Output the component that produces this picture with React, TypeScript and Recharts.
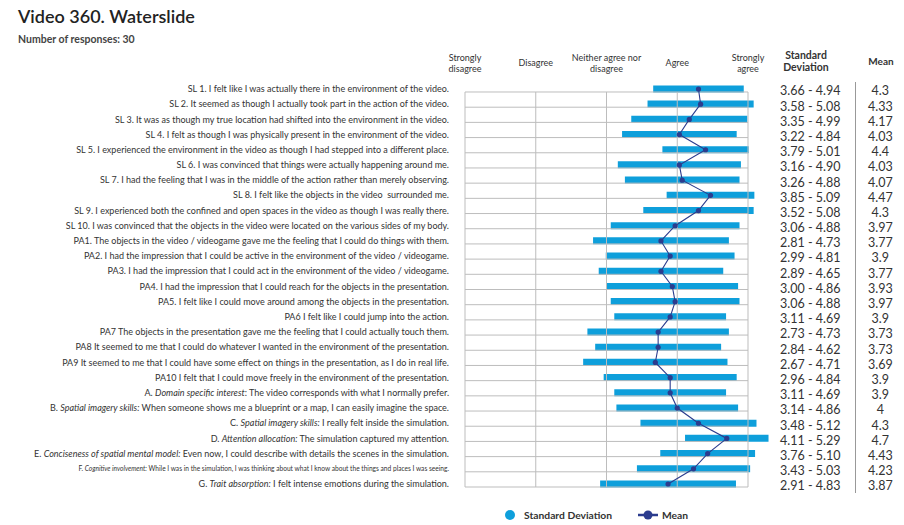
import React from 'react';
import { ComposedChart, Bar, Line, XAxis, YAxis, ReferenceLine } from 'recharts';

const codes = ['SL1','SL2','SL3','SL4','SL5','SL6','SL7','SL8','SL9','SL10','PA1','PA2','PA3','PA4','PA5','PA6','PA7','PA8','PA9','PA10','A','B','C','D','E','F','G'];
const prefixes = ['SL 1. ','SL 2. ','SL 3. ','SL 4. ','SL 5. ','SL 6. ','SL 7. ','SL 8. ','SL 9. ','SL 10. ','PA1. ','PA2. ','PA3. ','PA4. ','PA5. ','PA6 ','PA7 ','PA8 ','PA9 ','PA10 ','A. ','B. ','C. ','D. ','E. ','F. ','G. '];
const italics = ['','','','','','','','','','','','','','','','','','','','','Domain specific interest','Spatial imagery skills:','Spatial imagery skills:','Attention allocation:','Conciseness of spatial mental model:','Cognitive involvement:','Trait absorption:'];
const texts = [
  'I felt like I was actually there in the environment of the video.',
  'It seemed as though I actually took part in the action of the video.',
  'It was as though my true location had shifted into the environment in the video.',
  'I felt as though I was physically present in the environment of the video.',
  'I experienced the environment in the video as though I had stepped into a different place.',
  'I was convinced that things were actually happening around me.',
  'I had the feeling that I was in the middle of the action rather than merely observing.',
  'I felt like the objects in the video  surrounded me.',
  'I experienced both the confined and open spaces in the video as though I was really there.',
  'I was convinced that the objects in the video were located on the various sides of my body.',
  'The objects in the video / videogame gave me the feeling that I could do things with them.',
  'I had the impression that I could be active in the environment of the video / videogame.',
  'I had the impression that I could act in the environment of the video / videogame.',
  'I had the impression that I could reach for the objects in the presentation.',
  'I felt like I could move around among the objects in the presentation.',
  'I felt like I could jump into the action.',
  'The objects in the presentation gave me the feeling that I could actually touch them.',
  'It seemed to me that I could do whatever I wanted in the environment of the presentation.',
  'It seemed to me that I could have some effect on things in the presentation, as I do in real life.',
  'I felt that I could move freely in the environment of the presentation.',
  ': The video corresponds with what I normally prefer.',
  ' When someone shows me a blueprint or a map, I can easily imagine the space.',
  ' I really felt inside the simulation.',
  ' The simulation captured my attention.',
  ' Even now, I could describe with details the scenes in the simulation.',
  ' While I was in the simulation, I was thinking about what I know about the things and places I was seeing.',
  ' I felt intense emotions during the simulation.',
];
const sdLow = [3.66,3.58,3.35,3.22,3.79,3.16,3.26,3.85,3.52,3.06,2.81,2.99,2.89,3.00,3.06,3.11,2.73,2.84,2.67,2.96,3.11,3.14,3.48,4.11,3.76,3.43,2.91];
const sdHigh = [4.94,5.08,4.99,4.84,5.01,4.90,4.88,5.09,5.08,4.88,4.73,4.81,4.65,4.86,4.88,4.69,4.73,4.62,4.71,4.84,4.69,4.86,5.12,5.29,5.10,5.03,4.83];
const means = [4.3,4.33,4.17,4.03,4.4,4.03,4.07,4.47,4.3,3.97,3.77,3.9,3.77,3.93,3.97,3.9,3.73,3.73,3.69,3.9,3.9,4,4.3,4.7,4.43,4.23,3.87];
const scaleTicks = [1, 2, 3, 4, 5];
const scaleLabels = [['Strongly', 'disagree'], ['Disagree'], ['Neither agree nor', 'disagree'], ['Agree'], ['Strongly', 'agree']];

const data = codes.map((c, i) => ({ code: c, sd: [sdLow[i], sdHigh[i]], mean: means[i] }));

const FONT = 'Lato, "Open Sans", sans-serif';
const BAR = '#0E9FDB';
const NAVY = '#2B3C8E';
const GRID = '#BDBDBD';

const LeftTick = (props: any) => {
  const { x, y, payload } = props;
  const i = codes.indexOf(payload.value);
  const small = payload.value === 'F';
  return (
    <text x={x} y={y} dy="0.35em" textAnchor="end" fontSize={small ? 6.6 : 9} fill="#333" fontFamily={FONT} style={{ whiteSpace: 'pre' }}>
      <tspan>{prefixes[i]}</tspan>
      {italics[i] ? <tspan fontStyle="italic">{italics[i]}</tspan> : null}
      <tspan>{texts[i]}</tspan>
    </text>
  );
};

const RightTick = (props: any) => {
  const { x, y, payload } = props;
  const i = codes.indexOf(payload.value);
  return (
    <g fontFamily={FONT} fill="#333" fontSize={12.5}>
      <text x={x + 34} y={y + 2} dy="0.35em" textAnchor="middle">{`${sdLow[i].toFixed(2)} - ${sdHigh[i].toFixed(2)}`}</text>
      <text x={x + 104} y={y + 2} dy="0.35em" textAnchor="middle">{String(means[i])}</text>
    </g>
  );
};

const TopTick = (props: any) => {
  const { x, payload } = props;
  const i = scaleTicks.indexOf(payload.value);
  const lines = scaleLabels[i] || [];
  return (
    <text x={x} textAnchor="middle" fontSize={9} fill="#333" fontFamily={FONT}>
      {lines.length === 1 ? (
        <tspan x={x} y={65.5}>{lines[0]}</tspan>
      ) : (
        lines.map((l, k) => <tspan key={k} x={x} y={60.5 + k * 11}>{l}</tspan>)
      )}
    </text>
  );
};

const shiftedLine = (p: any) => (
  <line x1={p.x1} y1={p.y1 + 3} x2={p.x2} y2={p.y2 + 3} stroke={GRID} strokeWidth={1} />
);

export default function App() {
  return (
    <div style={{ position: 'absolute', left: 0, top: 0, width: 904, height: 525, background: '#fff', fontFamily: FONT }}>
      <div style={{ position: 'absolute', left: 18, top: 5, fontSize: 18, fontWeight: 600, color: '#222' }}>Video 360. Waterslide</div>
      <div style={{ position: 'absolute', left: 18, top: 33, fontSize: 10.5, fontWeight: 700, color: '#444' }}>Number of responses: 30</div>
      <div style={{ position: 'absolute', left: 766, top: 50, width: 80, textAlign: 'center', fontSize: 10.5, fontWeight: 700, color: '#333', lineHeight: '11.5px' }}>Standard<br />Deviation</div>
      <div style={{ position: 'absolute', left: 855, top: 55, width: 52, textAlign: 'center', fontSize: 10, fontWeight: 700, color: '#333' }}>Mean</div>
      <div style={{ position: 'absolute', left: 855, top: 82, width: 0, height: 411, borderLeft: '1px solid #999' }} />
      <ComposedChart
        layout="vertical"
        width={904}
        height={525}
        data={data}
        margin={{ top: 0, right: 0, bottom: 33.4, left: 0 }}
      >
        <XAxis
          type="number"
          orientation="top"
          domain={[1, 5.4]}
          allowDataOverflow
          ticks={scaleTicks}
          axisLine={false}
          tickLine={false}
          tickSize={0}
          height={81.4}
          tick={<TopTick />}
        />
        <YAxis
          yAxisId="left"
          type="category"
          dataKey="code"
          width={465}
          axisLine={false}
          tickLine={false}
          tickSize={0}
          tickMargin={16}
          interval={0}
          tick={<LeftTick />}
        />
        <YAxis
          yAxisId="right"
          orientation="right"
          type="category"
          dataKey="code"
          width={127.7}
          axisLine={false}
          tickLine={false}
          tickSize={0}
          tickMargin={0}
          interval={0}
          tick={<RightTick />}
        />
        {codes.map((c) => (
          <ReferenceLine
            key={'h' + c}
            yAxisId="left"
            ifOverflow="visible"
            segment={[{ x: 1, y: c }, { x: 5, y: c }]}
            shape={shiftedLine}
          />
        ))}
        {scaleTicks.map((v) => (
          <ReferenceLine
            key={'v' + v}
            yAxisId="left"
            ifOverflow="visible"
            segment={[{ x: v, y: codes[0] }, { x: v, y: codes[codes.length - 1] }]}
            shape={shiftedLine}
          />
        ))}
        <Bar yAxisId="left" dataKey="sd" fill={BAR} barSize={7} isAnimationActive={false} />
        <Line
          yAxisId="left"
          dataKey="mean"
          stroke={NAVY}
          strokeWidth={1.1}
          dot={{ r: 2.6, fill: NAVY, stroke: NAVY, strokeWidth: 0 }}
          activeDot={false}
          isAnimationActive={false}
        />
      </ComposedChart>
      <svg style={{ position: 'absolute', left: 0, top: 500 }} width={904} height={25}>
        <circle cx={510} cy={15} r={5} fill={BAR} />
        <text x={524} y={15} dy="0.35em" fontSize={10.3} fontWeight={700} fill="#333" fontFamily={FONT}>Standard Deviation</text>
        <line x1={638} y1={15} x2={658} y2={15} stroke={NAVY} strokeWidth={2.5} />
        <circle cx={648} cy={15} r={4.5} fill={NAVY} />
        <text x={662} y={15} dy="0.35em" fontSize={10.3} fontWeight={700} fill="#333" fontFamily={FONT}>Mean</text>
      </svg>
    </div>
  );
}
